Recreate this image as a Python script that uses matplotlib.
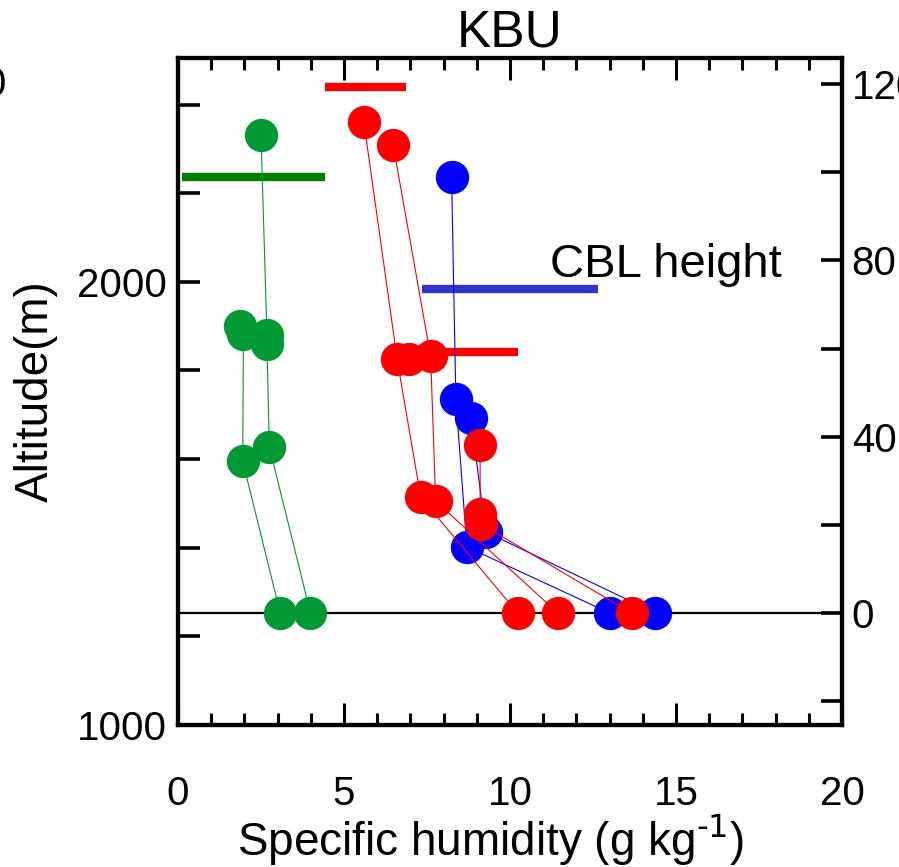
import matplotlib
matplotlib.use('Agg')
import matplotlib.pyplot as plt

plt.rcParams['font.family'] = ['Liberation Sans', 'DejaVu Sans']

# specific humidity (g/kg) and height (right axis units) for each profile
green_q = [[2.5, 2.68, 2.68, 2.75, 3.99],
           [1.87, 1.97, 1.95, 3.08]]
green_z = [[108.4, 63.0, 61.0, 37.7, 0],
           [65.0, 63.3, 34.4, 0]]

red_q = [[5.60, 6.60, 7.31, 10.23],
         [6.48, 7.61, 7.76, 11.44],
         [9.10, 9.10, 9.12, 13.66],
         [6.96]]
red_z = [[111.3, 57.6, 26.3, 0],
         [106.2, 58.2, 25.4, 0],
         [38.1, 22.5, 20.2, 0],
         [57.6]]

blue_q = [[8.24, 8.37, 8.70, 13.0],
          [8.82, 9.27, 14.38]]
blue_z = [[98.9, 48.5, 15.0, 0],
          [44.2, 18.4, 0]]

# CBL height bars: (x start, x end, height)
cbl_green = (0.11, 4.44, 98.9)
cbl_red_top = (4.44, 6.86, 119.3)
cbl_blue = (7.36, 12.66, 73.5)
cbl_red_low = (7.5, 10.25, 59.1)

fig = plt.figure(figsize=(8.99, 8.67), dpi=100)
ax = fig.add_axes([178/899, 1-725/867, (842-178)/899, (725-58)/867])
ax2 = ax.twinx()

ax.set_xlim(0, 20)
ax.set_ylim(1000, 2505)
ax2.set_ylim(-25.4, 125.9)

# zero line
ax2.axhline(0, color='black', lw=1.6, zorder=1)

# CBL bars
ax2.hlines(cbl_green[2], cbl_green[0], cbl_green[1], color='#008000', lw=6, zorder=2)
ax2.hlines(cbl_red_top[2], cbl_red_top[0], cbl_red_top[1], color='#ff0000', lw=6, zorder=2)
ax2.hlines(cbl_blue[2], cbl_blue[0], cbl_blue[1], color='#3333cc', lw=6, zorder=2)
ax2.hlines(cbl_red_low[2], cbl_red_low[0], cbl_red_low[1], color='#ff0000', lw=6, zorder=2)

ms = 24
for q, z in zip(green_q, green_z):
    ax2.plot(q, z, '-o', color='#009933', lw=0.8, ms=ms, mew=0, zorder=3)
for q, z in zip(red_q, red_z):
    ax2.plot(q, z, '-o', color='#ff0000', lw=0.8, ms=ms, mew=0, zorder=4)
for q, z in zip(blue_q, blue_z):
    ax2.plot(q, z, '-o', color='#0000ff', lw=0.8, ms=ms, mew=0, zorder=3)

ax2.text(14.7, 79, 'CBL height', fontsize=34, ha='center', va='center', zorder=5)

# ticks
ax.set_xticks([0, 5, 10, 15, 20])
ax.set_xticks(range(0, 21), minor=True)
ax.set_yticks([1000, 2000])
ax.set_yticks(range(1000, 2501, 200), minor=True)
ax.tick_params(axis='x', which='major', direction='in', top=True, length=16, width=2.2,
               labelsize=29, pad=36)
ax.tick_params(axis='x', which='minor', direction='in', top=True, length=8.5, width=2.2)
ax.tick_params(axis='y', which='both', direction='in', length=16, width=2.6,
               labelsize=29, pad=8)

ax2.set_yticks([0, 40, 80, 120])
ax2.set_yticks(range(-20, 121, 20), minor=True)
ax2.tick_params(axis='y', which='both', direction='in', length=15, width=2.6,
                labelsize=29, pad=7)

for a in (ax, ax2):
    for s in a.spines.values():
        s.set_linewidth(3)

ax.set_xlabel('Specific humidity (g kg$^{\\text{-1}}$)', fontsize=33, labelpad=0)
ax.xaxis.label.set_x(0.47)
ax.set_ylabel('Altitude(m)', fontsize=33, labelpad=14)
ax.set_title('KBU', fontsize=37, pad=3)

# sliver of the neighbouring panel's label
fig.text(0.008, 1-85/867, '120', fontsize=29, ha='right', va='center')

fig.savefig('out.png', dpi=100)
